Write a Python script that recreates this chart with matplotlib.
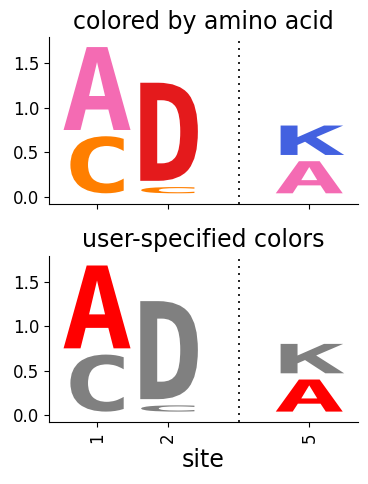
import matplotlib
matplotlib.use("Agg")
import matplotlib.pyplot as plt
from matplotlib.textpath import TextPath, TextToPath
from matplotlib.font_manager import FontProperties
from matplotlib.patches import PathPatch
from matplotlib.transforms import Affine2D

# data
sites = ["1", "2", "5"]
site_pos = [0, 1, 3]
gap_pos = [2]
# letters per site, bottom to top
letters = [["C", "A"], ["C", "D"], ["A", "K"]]
heights = [[0.64, 0.93], [0.07, 1.10], [0.36, 0.33]]
aa_colors = {"A": "#f46bb3", "C": "#ff7f00", "D": "#e41a1c", "K": "#4361e0"}
user_colors = {"A": "#ff0000", "C": "#808080", "D": "#808080", "K": "#808080"}
titles = ["colored by amino acid", "user-specified colors"]

base = 0.04
pad = 0.07
box_width = 1.0

prop = FontProperties(family="DejaVu Sans Mono", weight="bold", size=1)
t2p = TextToPath()


def draw_letter(ax, letter, x, y0, h, color):
    path = TextPath((0, 0), letter, size=1, prop=prop)
    adv, _, _ = t2p.get_text_width_height_descent(letter, prop, ismath=False)
    ext = path.get_extents()
    sx = box_width / adv
    sy = h / ext.height
    tr = (Affine2D().translate(-adv / 2, -ext.y0)
          .scale(sx, sy).translate(x, y0))
    p = tr.transform_path(path)
    ax.add_patch(PathPatch(p, facecolor=color, edgecolor="none", lw=0))


fig = plt.figure(figsize=(3.68, 4.84), dpi=100)
rects = [[0.133, 0.5785, 0.84, 0.3445], [0.133, 0.1275, 0.84, 0.3442]]
for i, (rect, cmap) in enumerate(zip(rects, [aa_colors, user_colors])):
    ax = fig.add_axes(rect)
    for pos, ls, hs in zip(site_pos, letters, heights):
        y = base
        for l, h in zip(ls, hs):
            draw_letter(ax, l, pos, y, h, cmap[l])
            y += h + pad
    for g in gap_pos:
        ax.axvline(g, color="black", ls=(0, (1.2, 3)), lw=1.2)
    ax.set_xlim(-0.68, 3.69)
    ax.set_ylim(-0.08, 1.79)
    ax.set_yticks([0, 0.5, 1.0, 1.5])
    ax.set_xticks(site_pos)
    ax.spines["top"].set_visible(False)
    ax.spines["right"].set_visible(False)
    ax.tick_params(labelsize=12)
    ax.set_title(titles[i], fontsize=17)
    if i == 0:
        ax.set_xticklabels([])
    else:
        ax.set_xticklabels(sites, rotation=90)
        ax.set_xlabel("site", fontsize=17)

fig.savefig("out.png", dpi=100)
